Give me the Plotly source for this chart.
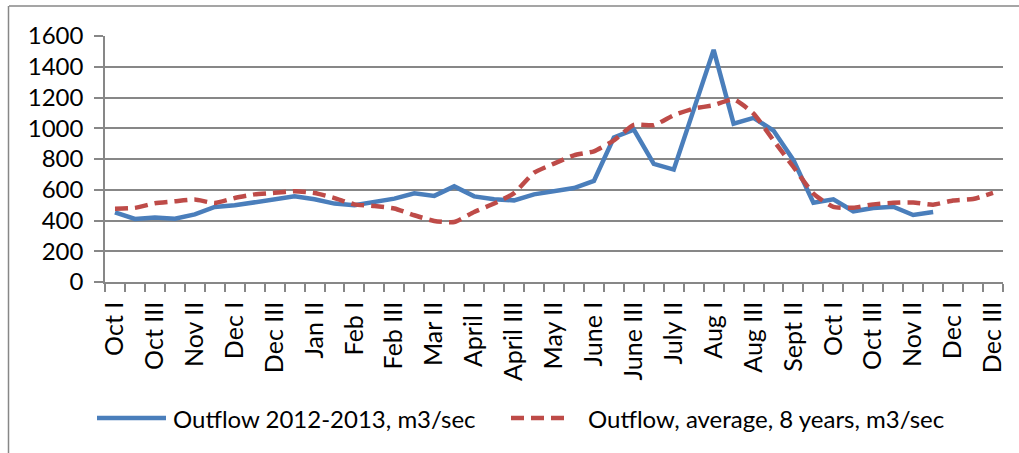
import plotly.graph_objects as go

# Ten-day periods (dekads), October 2012 through December 2013
months = ["Oct", "Nov", "Dec", "Jan", "Feb", "Mar", "April", "May",
          "June", "July", "Aug", "Sept", "Oct", "Nov", "Dec"]
dekads = ["I", "II", "III"]
periods = [f"{m} {d}" for m in months for d in dekads]

# Outflow for 2012-2013, m3/sec (ends at Nov III 2013)
outflow_2012_2013 = [
    453, 410, 419, 412, 440, 488, 499, 520, 542, 557,
    538, 510, 499, 520, 542, 577, 560, 622, 557, 538,
    531, 570, 592, 611, 657, 940, 991, 768, 731, 1118,
    1510, 1030, 1067, 985, 792, 515, 538, 460, 481, 490,
    436, 455,
]

# Outflow, 8-year average, m3/sec
outflow_avg_8y = [
    477, 482, 512, 525, 536, 514, 546, 570, 580, 590,
    579, 546, 505, 494, 478, 434, 397, 390, 455, 510,
    578, 711, 770, 824, 850, 921, 1022, 1020, 1085, 1128,
    1150, 1188, 1095, 921, 748, 575, 488, 483, 505, 515,
    517, 503, 530, 540, 579,
]

legend_names = ["Outflow 2012-2013, m3/sec", "Outflow, average, 8 years, m3/sec"]

BLUE = "#4A7EBB"
RED = "#BE4B48"
GRID = "#878787"
FONT = "Lato"

W, H = 1019, 453
L, R, T, B = 105, 16, 36, 171

x_idx = list(range(len(periods)))

fig = go.Figure()
fig.add_trace(go.Scatter(
    x=x_idx[:len(outflow_2012_2013)], y=outflow_2012_2013,
    mode="lines", name=legend_names[0],
    line=dict(color=BLUE, width=4.5),
    showlegend=False,
))
fig.add_trace(go.Scatter(
    x=x_idx, y=outflow_avg_8y,
    mode="lines", name=legend_names[1],
    line=dict(color=RED, width=4.5, dash="13px,7px", shape="spline", smoothing=0.5),
    showlegend=False,
))

# every other period is labelled; tick marks sit on period boundaries
label_vals = x_idx[::2]
label_text = periods[::2]
boundaries = [i - 0.5 for i in range(len(periods) + 1)]

fig.update_xaxes(
    range=[-0.5, len(periods) - 0.5],
    tickmode="array", tickvals=label_vals, ticktext=label_text,
    tickangle=-90, ticks="", ticklabelstandoff=8,
    showgrid=False, zeroline=False,
    showline=True, linecolor=GRID, linewidth=1.5,
    tickfont=dict(family=FONT, size=25, color="#000000"),
    minor=dict(tickmode="array", tickvals=boundaries, ticks="outside",
               ticklen=8, tickwidth=1.5, tickcolor=GRID, showgrid=False),
)
fig.update_yaxes(
    range=[0, 1600], tickmode="linear", tick0=0, dtick=200,
    ticks="outside", ticklen=9, tickwidth=1.5, tickcolor=GRID,
    showgrid=True, gridcolor=GRID, gridwidth=1.5,
    zeroline=False, showline=True, linecolor=GRID, linewidth=1.5,
    tickfont=dict(family=FONT, size=24, color="#000000"),
    ticklabelstandoff=6,
)

pw, ph = W - L - R, H - T - B


def px_x(x):
    return (x - L) / pw


def px_y(y):
    return (H - B - y) / ph


shapes = [
    # outer chart frame (top and left edges)
    dict(type="line", xref="paper", yref="paper",
         x0=px_x(9), x1=px_x(W + 5), y0=px_y(6), y1=px_y(6),
         line=dict(color=GRID, width=1.5)),
    dict(type="line", xref="paper", yref="paper",
         x0=px_x(8.5), x1=px_x(8.5), y0=px_y(6), y1=px_y(H + 5),
         line=dict(color=GRID, width=1.5)),
    # legend keys
    dict(type="line", xref="paper", yref="paper",
         x0=px_x(97), x1=px_x(166), y0=px_y(418), y1=px_y(418),
         line=dict(color=BLUE, width=4.5)),
    dict(type="line", xref="paper", yref="paper",
         x0=px_x(511), x1=px_x(571), y0=px_y(418), y1=px_y(418),
         line=dict(color=RED, width=4.5, dash="13px,7px")),
]

annotations = [
    dict(xref="paper", yref="paper", x=px_x(171), y=px_y(418),
         xanchor="left", yanchor="middle", showarrow=False,
         text=legend_names[0], font=dict(family=FONT, size=24, color="#000000")),
    dict(xref="paper", yref="paper", x=px_x(586), y=px_y(418),
         xanchor="left", yanchor="middle", showarrow=False,
         text=legend_names[1], font=dict(family=FONT, size=24, color="#000000")),
]

fig.update_layout(
    width=W, height=H,
    margin=dict(l=L, r=R, t=T, b=B, autoexpand=False),
    paper_bgcolor="#FFFFFF", plot_bgcolor="#FFFFFF",
    shapes=shapes, annotations=annotations,
    showlegend=False,
)

fig.write_html("out.html")
